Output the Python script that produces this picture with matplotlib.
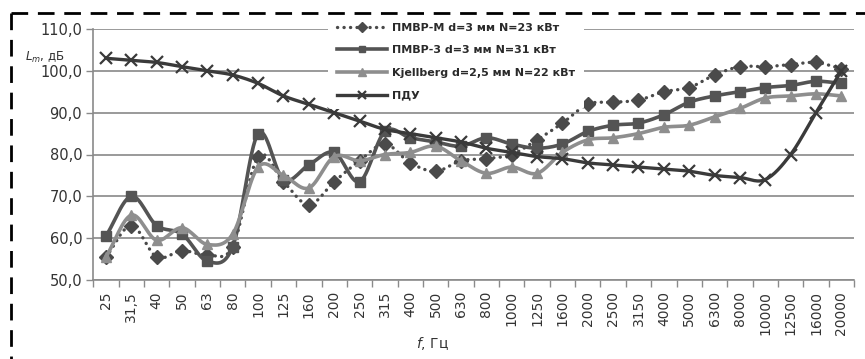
import numpy as np
import matplotlib
matplotlib.use("Agg")
import matplotlib.pyplot as plt
from matplotlib.lines import Line2D

plt.rcParams['font.family'] = ['DejaVu Sans']

categories = ["25", "31,5", "40", "50", "63", "80", "100", "125", "160", "200",
              "250", "315", "400", "500", "630", "800", "1000", "1250", "1600",
              "2000", "2500", "3150", "4000", "5000", "6300", "8000", "10000",
              "12500", "16000", "20000"]

pmvr_m = [55.5, 63, 55.5, 57, 56, 58, 79.5, 73.5, 68, 73.5, 78.5, 82.5, 78, 76,
          78.5, 79, 80, 83.5, 87.5, 92, 92.5, 93, 95, 96, 99, 101, 101, 101.5,
          102, 100.5]
pmvr_3 = [60.5, 70, 63, 61, 54.5, 58, 85, 74, 77.5, 80.5, 73.5, 85.5, 84, 83,
          82, 84, 82.5, 81.5, 82.5, 85.5, 87, 87.5, 89.5, 92.5, 94, 95, 96,
          96.5, 97.5, 97]
kjellberg = [55.5, 65.5, 59.5, 62.5, 58.5, 61, 77, 75, 72, 79.5, 78.5, 80, 80.5,
             82, 78.5, 75.5, 77, 75.5, 80.5, 83.5, 84, 85, 86.5, 87, 89, 91,
             93.5, 94, 94.5, 94]
pdu = [103, 102.5, 102, 101, 100, 99, 97, 94, 92, 90, 88, 86, 85, 84, 83, 81.5,
       80.5, 79.5, 79, 78, 77.5, 77, 76.5, 76, 75, 74.5, 74, 80, 90, 100]

labels = ["ПМВР-М d=3 мм N=23 кВт", "ПМВР-3 d=3 мм N=31 кВт",
          "Kjellberg d=2,5 мм N=22 кВт", "ПДУ"]
yticks = [50, 60, 70, 80, 90, 100, 110]


def smooth(xs, ys, n=16):
    # Bezier curve through the points (like Excel "smoothed line")
    xs = np.asarray(xs, float)
    ys = np.asarray(ys, float)
    px = np.concatenate([[2 * xs[0] - xs[1]], xs, [2 * xs[-1] - xs[-2]]])
    py = np.concatenate([[2 * ys[0] - ys[1]], ys, [2 * ys[-1] - ys[-2]]])
    ox, oy = [], []
    for i in range(1, len(px) - 2):
        p0, p1, p2, p3 = (np.array([px[j], py[j]]) for j in (i - 1, i, i + 1, i + 2))
        c1 = p1 + (p2 - p0) / 6.0
        c2 = p2 - (p3 - p1) / 6.0
        t = np.linspace(0, 1, n, endpoint=(i == len(px) - 3))
        b = ((1 - t) ** 3)[:, None] * p1 + (3 * (1 - t) ** 2 * t)[:, None] * c1 \
            + (3 * (1 - t) * t ** 2)[:, None] * c2 + (t ** 3)[:, None] * p2
        ox.extend(b[:, 0])
        oy.extend(b[:, 1])
    return np.array(ox), np.array(oy)


fig = plt.figure(figsize=(8.65, 3.59), dpi=100)
ax = fig.add_axes([93.3 / 865, 1 - 280 / 359, 760.7 / 865, 251 / 359])

x = np.arange(len(categories))

series = [
    (pmvr_m, dict(color="#4a4a4a", ls=(0, (0.05, 1.9)), lw=2.4, marker="D", ms=7.5,
                  dash_capstyle="round")),
    (pmvr_3, dict(color="#545454", ls="-", lw=2.6, marker="s", ms=7)),
    (kjellberg, dict(color="#8e8e8e", ls="-", lw=2.6, marker="^", ms=7.5)),
    (pdu, dict(color="#3a3a3a", ls="-", lw=2.4, marker="x", ms=9, mew=1.6)),
]

handles = []
for z, ((vals, st), lab) in enumerate(zip(series, labels)):
    sx, sy = smooth(x, vals)
    lkw = dict(color=st["color"], lw=st["lw"], ls=st["ls"])
    if "dash_capstyle" in st:
        lkw["dash_capstyle"] = st["dash_capstyle"]
    ax.plot(sx, sy, zorder=3 + z, **lkw)
    mkw = dict(marker=st["marker"], ms=st["ms"], color=st["color"],
               mfc=st["color"], mec=st["color"], ls="none")
    if "mew" in st:
        mkw["mew"] = st["mew"]
    ax.plot(x, vals, zorder=3 + z, **mkw)
    handles.append(Line2D([0], [0], label=lab, **lkw,
                          marker=st["marker"], ms=st["ms"] * 0.7,
                          mfc=st["color"], mec=st["color"],
                          mew=st.get("mew", 1)))

ax.set_xlim(-0.5, len(categories) - 0.5)
ax.set_ylim(50, 110)
ax.set_yticks(yticks)
ax.set_yticklabels([f"{v:.1f}".replace(".", ",") for v in yticks],
                   fontsize=10.5, color="#333333")
ax.set_xticks(x)
ax.set_xticklabels(categories, rotation=90, fontsize=10, color="#333333")
ax.tick_params(axis="x", length=0, pad=8)
ax.set_xticks(np.arange(-0.5, len(categories), 1), minor=True)
ax.tick_params(axis="x", which="minor", length=5, width=1, color="#8a8a8a")
ax.tick_params(axis="y", length=5, width=1, color="#8a8a8a", pad=3)

ax.grid(axis="y", color="#9a9a9a", lw=1.4)
ax.set_axisbelow(True)
for s in ["top", "right"]:
    ax.spines[s].set_visible(False)
for s in ["left", "bottom"]:
    ax.spines[s].set_color("#8a8a8a")
    ax.spines[s].set_linewidth(1.2)

leg = ax.legend(handles=handles, loc="upper left",
                bbox_to_anchor=(0.309, 0.66, 0.327, 0.40), fontsize=8,
                frameon=True, framealpha=1, edgecolor="white",
                handlelength=4.5, handletextpad=0.4, labelspacing=1.13,
                borderpad=0.8, borderaxespad=0)
leg.get_frame().set_linewidth(0)
leg.set_zorder(10)
for t in leg.get_texts():
    t.set_fontweight("bold")
    t.set_color("#2a2a2a")

fig.text(25 / 865, 1 - 57 / 359, r"$L_m$, дБ", fontsize=8.5, color="#333333",
         ha="left", va="center")
fig.text(432 / 865, 1 - 343 / 359, r"$f$, Гц", fontsize=10, color="#333333",
         ha="center", va="center")

# dashed frame (top and left sides visible)
fig.add_artist(Line2D([11 / 865, 1.0], [1 - 13 / 359, 1 - 13 / 359],
                      transform=fig.transFigure, color="black", lw=2,
                      ls=(0, (6, 3.5))))
fig.add_artist(Line2D([11 / 865, 11 / 865], [1 - 13 / 359, 0.0],
                      transform=fig.transFigure, color="black", lw=2,
                      ls=(0, (6, 3.5))))

fig.savefig("out.png", dpi=100)
